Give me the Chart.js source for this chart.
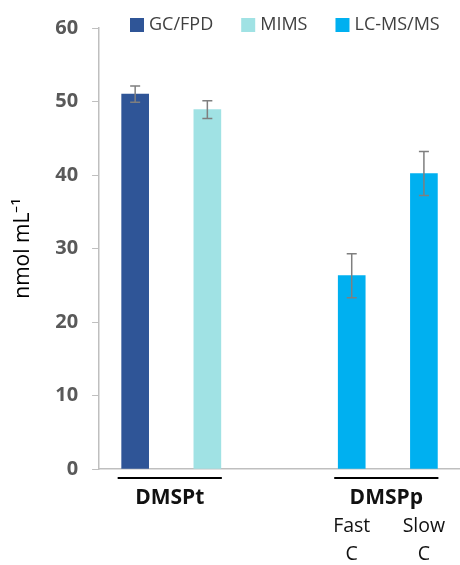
<!DOCTYPE html>
<html>
<head>
<meta charset="utf-8">
<script src="https://cdn.jsdelivr.net/npm/chart.js@4.4.0/dist/chart.umd.min.js"></script>
<style>
  html, body { margin: 0; padding: 0; background: #fff; }
  #wrap { width: 460px; height: 565px; }
</style>
</head>
<body>
<div id="wrap"><canvas id="myChart"></canvas></div>
<script>
// datos
const categorias = ['DMSPt-GC', 'DMSPt-MIMS', '', 'Fast C', 'Slow C'];
const gcfpd = [51.0, null, null, null, null];
const mims = [null, 48.9, null, null, null];
const lcms = [null, null, null, 26.3, 40.2];
const errGc = [1.1, null, null, null, null];
const errMims = [null, 1.2, null, null, null];
const errLc = [null, null, null, 3.0, 3.0];
const yTicks = [0, 10, 20, 30, 40, 50, 60];

const grupos = [
    { nombre: 'DMSPt', desde: 0, hasta: 1, subs: [] },
    { nombre: 'DMSPp', desde: 3, hasta: 4, subs: [['Fast', 'C'], ['Slow', 'C']] }
];

const colores = ['#2F5597', '#A0E2E4', '#00B0F0'];

// barras de error
const errorBars = {
    id: 'errorBars',
    afterDatasetsDraw(chart) {
        const ctx = chart.ctx;
        const y = chart.scales.y;
        const errs = [errGc, errMims, errLc];
        ctx.save();
        ctx.strokeStyle = '#7f7f7f';
        ctx.lineWidth = 1.5;
        chart.data.datasets.forEach((ds, i) => {
            const meta = chart.getDatasetMeta(i);
            ds.data.forEach((v, j) => {
                if (v == null) return;
                const x = meta.data[j].x;
                const top = y.getPixelForValue(v + errs[i][j]);
                const bot = y.getPixelForValue(v - errs[i][j]);
                ctx.beginPath();
                ctx.moveTo(x, top); ctx.lineTo(x, bot);
                ctx.moveTo(x - 5, top); ctx.lineTo(x + 5, top);
                ctx.moveTo(x - 5, bot); ctx.lineTo(x + 5, bot);
                ctx.stroke();
            });
        });
        ctx.restore();
    }
};

// leyenda y etiquetas de grupo
const extras = {
    id: 'extras',
    afterDraw(chart) {
        const ctx = chart.ctx;
        const x = chart.scales.x;
        const area = chart.chartArea;
        ctx.save();

        // leyenda
        let lx = 130;
        const ly = 25;
        ctx.font = '18px "Open Sans"';
        ctx.textBaseline = 'middle';
        ctx.textAlign = 'left';
        chart.data.datasets.forEach((ds, i) => {
            ctx.fillStyle = colores[i];
            ctx.fillRect(lx, ly - 7, 14, 14);
            ctx.fillStyle = '#404040';
            ctx.fillText(ds.label, lx + 19, ly);
            lx += 19 + ctx.measureText(ds.label).width + 28;
        });

        // grupos
        const half = chart.getDatasetMeta(0).data[0].width / 2;
        grupos.forEach(g => {
            const x0 = x.getPixelForValue(g.desde) - half - 4;
            const x1 = x.getPixelForValue(g.hasta) + half + 1;
            ctx.strokeStyle = '#000';
            ctx.lineWidth = 2;
            ctx.beginPath();
            ctx.moveTo(x0, area.bottom + 9);
            ctx.lineTo(x1, area.bottom + 9);
            ctx.stroke();
            ctx.fillStyle = '#111';
            ctx.textAlign = 'center';
            ctx.font = 'bold 21px "Open Sans"';
            ctx.fillText(g.nombre, (x0 + x1) / 2, area.bottom + 29);
            ctx.font = '19.5px "Open Sans"';
            g.subs.forEach((s, k) => {
                const cx = x.getPixelForValue(g.desde + k);
                ctx.fillText(s[0], cx, area.bottom + 57);
                ctx.fillText(s[1], cx, area.bottom + 85);
            });
        });
        ctx.restore();
    }
};

const ctx = document.getElementById('myChart').getContext('2d');
const myChart = new Chart(ctx, {
    type: 'bar',
    data: {
        labels: categorias,
        datasets: [
            { label: 'GC/FPD', data: gcfpd, backgroundColor: colores[0] },
            { label: 'MIMS', data: mims, backgroundColor: colores[1] },
            { label: 'LC-MS/MS', data: lcms, backgroundColor: colores[2] }
        ]
    },
    options: {
        responsive: true,
        maintainAspectRatio: false,
        animation: false,
        layout: { padding: { top: 28, left: 10, right: 0, bottom: 88 } },
        datasets: { bar: { barThickness: 27 } },
        plugins: {
            legend: { display: false },
            tooltip: { enabled: false }
        },
        scales: {
            x: {
                stacked: true,
                grid: { display: false },
                border: { color: '#bfbfbf', width: 1.5 },
                ticks: { display: false }
            },
            y: {
                stacked: true,
                min: 0,
                max: 60,
                afterBuildTicks: (s) => { s.ticks = yTicks.map(v => ({ value: v })); },
                grid: { drawOnChartArea: false, drawTicks: true, tickLength: 7, color: '#bfbfbf' },
                border: { color: '#bfbfbf', width: 1.5 },
                ticks: {
                    color: '#595959',
                    font: { family: 'Open Sans', size: 20, weight: 'bold' },
                    padding: 14
                },
                title: {
                    display: true,
                    text: 'nmol mL⁻¹',
                    color: '#000',
                    font: { family: 'Open Sans', size: 21 },
                    padding: { top: 0, bottom: 6 }
                }
            }
        }
    },
    plugins: [errorBars, extras]
});
</script>
</body>
</html>
